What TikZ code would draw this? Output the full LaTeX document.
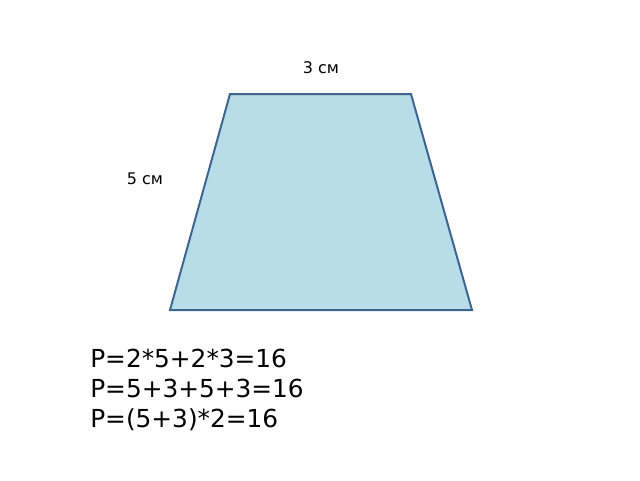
\documentclass[tikz,border=0pt]{standalone}
\usepackage{fontspec}
\setmainfont{DejaVu Sans}
\definecolor{fillblue}{HTML}{B7DDE8}
\definecolor{edgeblue}{HTML}{3E6590}
\begin{document}
\begin{tikzpicture}[x=0.75pt,y=-0.75pt,
  lbl/.style={inner sep=0pt,font=\fontsize{12}{14}\selectfont},
  formula/.style={inner sep=0pt,anchor=base west,font=\fontsize{18.6}{22}\selectfont}]
\useasboundingbox (0,0) rectangle (640,480);
\coordinate (tl) at (230,94);
\coordinate (tr) at (411,94);
\coordinate (br) at (472,310);
\coordinate (bl) at (170,310);
\draw[fill=fillblue,draw=edgeblue,line width=1.5pt,line join=miter] (tl) -- (tr) -- (br) -- (bl) -- cycle;
\node[lbl] (top) at (321,68) {3 см};
\node[lbl] (side) at (145,179) {5 см};
\node[formula] (f1) at (90,367) {P=2*5+2*3=16};
\node[formula] (f2) at (90,397) {P=5+3+5+3=16};
\node[formula] (f3) at (90,427) {P=(5+3)*2=16};
\end{tikzpicture}
\end{document}
